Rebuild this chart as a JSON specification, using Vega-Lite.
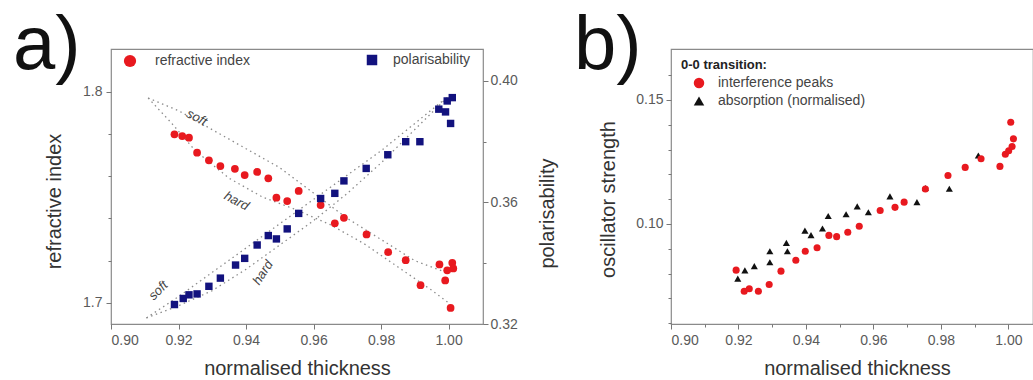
{
  "$schema": "https://vega.github.io/schema/vega-lite/v6.json",
  "padding": {"left": 12, "top": 7, "right": 0, "bottom": 0},
  "autosize": {"type": "pad"},
  "bounds": "flush",
  "spacing": 188,
  "config": {
    "view": {"stroke": "#8a8a8a", "strokeWidth": 1.2},
    "font": "Liberation Sans",
    "axis": {"domain": false, "grid": false, "tickColor": "#777777", "tickWidth": 1, "labelColor": "#5a5a5a", "labelFontSize": 14, "labelFont": "Liberation Sans", "titleFont": "Liberation Sans", "titleFontSize": 20, "titleFontWeight": "normal", "titleColor": "#333333", "labelPadding": 3},
    "legend": {"labelFont": "Liberation Sans", "labelFontSize": 14, "labelColor": "#444444", "titleFont": "Liberation Sans"}
  },
  "resolve": {"scale": {"color": "independent", "shape": "independent"}, "legend": {"color": "independent", "shape": "independent"}},
  "datasets": {
    "redPts": [
      {"t": 0.9188, "n": 1.7798}, {"t": 0.9211, "n": 1.7790}, {"t": 0.9231, "n": 1.7782}, {"t": 0.9255, "n": 1.7711},
      {"t": 0.9290, "n": 1.7675}, {"t": 0.9324, "n": 1.7648}, {"t": 0.9367, "n": 1.7635}, {"t": 0.9396, "n": 1.7605},
      {"t": 0.9433, "n": 1.7620}, {"t": 0.9466, "n": 1.7590}, {"t": 0.9490, "n": 1.7498}, {"t": 0.9522, "n": 1.7482},
      {"t": 0.9556, "n": 1.7530}, {"t": 0.9621, "n": 1.7463}, {"t": 0.9663, "n": 1.7377}, {"t": 0.9690, "n": 1.7403},
      {"t": 0.9757, "n": 1.7324}, {"t": 0.9821, "n": 1.7240}, {"t": 0.9873, "n": 1.7202}, {"t": 0.9917, "n": 1.7084},
      {"t": 0.9973, "n": 1.7182}, {"t": 0.9990, "n": 1.7106}, {"t": 0.9996, "n": 1.7154}, {"t": 1.0006, "n": 1.6976},
      {"t": 1.0011, "n": 1.7190}, {"t": 1.0014, "n": 1.7163}
    ],
    "bluePts": [
      {"t": 0.9188, "p": 0.3264}, {"t": 0.9214, "p": 0.3284}, {"t": 0.9231, "p": 0.3296}, {"t": 0.9255, "p": 0.3299},
      {"t": 0.9290, "p": 0.3324}, {"t": 0.9324, "p": 0.3351}, {"t": 0.9369, "p": 0.3394}, {"t": 0.9396, "p": 0.3416},
      {"t": 0.9433, "p": 0.3460}, {"t": 0.9466, "p": 0.3491}, {"t": 0.9490, "p": 0.3480}, {"t": 0.9522, "p": 0.3513},
      {"t": 0.9556, "p": 0.3564}, {"t": 0.9621, "p": 0.3613}, {"t": 0.9663, "p": 0.3630}, {"t": 0.9690, "p": 0.3671},
      {"t": 0.9756, "p": 0.3712}, {"t": 0.9820, "p": 0.3757}, {"t": 0.9873, "p": 0.3800}, {"t": 0.9915, "p": 0.3800},
      {"t": 0.9971, "p": 0.3907}, {"t": 0.9991, "p": 0.3898}, {"t": 0.9996, "p": 0.3934}, {"t": 1.0011, "p": 0.3945},
      {"t": 1.0006, "p": 0.3860}
    ],
    "redFit": [
      {"model": "soft", "t": 0.911, "n": 1.797}, {"model": "soft", "t": 0.92, "n": 1.791}, {"model": "soft", "t": 0.93, "n": 1.782},
      {"model": "soft", "t": 0.94, "n": 1.773}, {"model": "soft", "t": 0.95, "n": 1.764}, {"model": "soft", "t": 0.96, "n": 1.752},
      {"model": "soft", "t": 0.97, "n": 1.740}, {"model": "soft", "t": 0.98, "n": 1.730}, {"model": "soft", "t": 0.99, "n": 1.720},
      {"model": "soft", "t": 1.0, "n": 1.714},
      {"model": "hard", "t": 0.911, "n": 1.797}, {"model": "hard", "t": 0.918, "n": 1.785}, {"model": "hard", "t": 0.925, "n": 1.772},
      {"model": "hard", "t": 0.935, "n": 1.759}, {"model": "hard", "t": 0.945, "n": 1.750}, {"model": "hard", "t": 0.955, "n": 1.744},
      {"model": "hard", "t": 0.965, "n": 1.737}, {"model": "hard", "t": 0.975, "n": 1.728}, {"model": "hard", "t": 0.985, "n": 1.717},
      {"model": "hard", "t": 0.995, "n": 1.706}, {"model": "hard", "t": 1.0, "n": 1.700}
    ],
    "blueFit": [
      {"model": "soft", "t": 0.9105, "p": 0.322}, {"model": "soft", "t": 0.92, "p": 0.329}, {"model": "soft", "t": 0.93, "p": 0.337},
      {"model": "soft", "t": 0.94, "p": 0.345}, {"model": "soft", "t": 0.95, "p": 0.353}, {"model": "soft", "t": 0.96, "p": 0.361},
      {"model": "soft", "t": 0.97, "p": 0.369}, {"model": "soft", "t": 0.98, "p": 0.377}, {"model": "soft", "t": 0.99, "p": 0.386},
      {"model": "soft", "t": 1.0, "p": 0.395},
      {"model": "hard", "t": 0.9105, "p": 0.322}, {"model": "hard", "t": 0.92, "p": 0.326}, {"model": "hard", "t": 0.93, "p": 0.331},
      {"model": "hard", "t": 0.94, "p": 0.338}, {"model": "hard", "t": 0.95, "p": 0.346}, {"model": "hard", "t": 0.96, "p": 0.354},
      {"model": "hard", "t": 0.97, "p": 0.363}, {"model": "hard", "t": 0.98, "p": 0.373}, {"model": "hard", "t": 0.99, "p": 0.384},
      {"model": "hard", "t": 1.0, "p": 0.395}
    ],
    "redLab": [
      {"label": "soft", "t": 0.9254, "n": 1.7877},
      {"label": "hard", "t": 0.9372, "n": 1.7482}
    ],
    "blueLab": [
      {"label": "soft", "t": 0.9140, "p": 0.3310},
      {"label": "hard", "t": 0.9450, "p": 0.3369}
    ],
    "osc": [
      {"method": "absorption (normalised)", "t": 0.9198, "f": 0.0780}, {"method": "absorption (normalised)", "t": 0.9219, "f": 0.0813},
      {"method": "absorption (normalised)", "t": 0.9247, "f": 0.0830}, {"method": "absorption (normalised)", "t": 0.9293, "f": 0.0890},
      {"method": "absorption (normalised)", "t": 0.9293, "f": 0.0846}, {"method": "absorption (normalised)", "t": 0.9342, "f": 0.0924},
      {"method": "absorption (normalised)", "t": 0.9345, "f": 0.0890}, {"method": "absorption (normalised)", "t": 0.9397, "f": 0.0973},
      {"method": "absorption (normalised)", "t": 0.9415, "f": 0.0955}, {"method": "absorption (normalised)", "t": 0.9449, "f": 0.0982},
      {"method": "absorption (normalised)", "t": 0.9466, "f": 0.1032}, {"method": "absorption (normalised)", "t": 0.9519, "f": 0.1039},
      {"method": "absorption (normalised)", "t": 0.9552, "f": 0.1071}, {"method": "absorption (normalised)", "t": 0.9585, "f": 0.1047},
      {"method": "absorption (normalised)", "t": 0.9649, "f": 0.1111}, {"method": "absorption (normalised)", "t": 0.9729, "f": 0.1088},
      {"method": "absorption (normalised)", "t": 0.9754, "f": 0.1145}, {"method": "absorption (normalised)", "t": 0.9825, "f": 0.1142},
      {"method": "absorption (normalised)", "t": 0.9911, "f": 0.1276},
      {"method": "interference peaks", "t": 0.9193, "f": 0.0814}, {"method": "interference peaks", "t": 0.9217, "f": 0.0729},
      {"method": "interference peaks", "t": 0.9232, "f": 0.0739}, {"method": "interference peaks", "t": 0.9259, "f": 0.0729},
      {"method": "interference peaks", "t": 0.9291, "f": 0.0756}, {"method": "interference peaks", "t": 0.9326, "f": 0.0810},
      {"method": "interference peaks", "t": 0.9370, "f": 0.0854}, {"method": "interference peaks", "t": 0.9398, "f": 0.0890},
      {"method": "interference peaks", "t": 0.9433, "f": 0.0904}, {"method": "interference peaks", "t": 0.9468, "f": 0.0954},
      {"method": "interference peaks", "t": 0.9491, "f": 0.0949}, {"method": "interference peaks", "t": 0.9524, "f": 0.0967},
      {"method": "interference peaks", "t": 0.9558, "f": 0.0991}, {"method": "interference peaks", "t": 0.9620, "f": 0.1054},
      {"method": "interference peaks", "t": 0.9664, "f": 0.1067}, {"method": "interference peaks", "t": 0.9691, "f": 0.1088},
      {"method": "interference peaks", "t": 0.9754, "f": 0.1141}, {"method": "interference peaks", "t": 0.9821, "f": 0.1195},
      {"method": "interference peaks", "t": 0.9872, "f": 0.1228}, {"method": "interference peaks", "t": 0.9919, "f": 0.1263},
      {"method": "interference peaks", "t": 0.9975, "f": 0.1232}, {"method": "interference peaks", "t": 0.9991, "f": 0.1281},
      {"method": "interference peaks", "t": 1.0001, "f": 0.1295}, {"method": "interference peaks", "t": 1.0011, "f": 0.1312},
      {"method": "interference peaks", "t": 1.0015, "f": 0.1343}, {"method": "interference peaks", "t": 1.0007, "f": 0.1410}
    ]
  },
  "hconcat": [
    {
      "width": 372,
      "height": 275,
      "title": {"text": "a)", "anchor": "start", "frame": "group", "orient": "top", "fontSize": 76, "font": "Liberation Sans", "fontWeight": "normal", "color": "#111111", "baseline": "alphabetic", "dx": -98, "dy": 96, "offset": 0},
      "layer": [
        {
          "layer": [
            {
              "data": {"name": "redFit"},
              "mark": {"type": "line", "strokeDash": [1.5, 3.5], "color": "#8c8c8c", "strokeWidth": 1.3},
              "encoding": {
                "x": {"field": "t", "type": "quantitative"},
                "y": {"field": "n", "type": "quantitative"},
                "detail": {"field": "model"}
              }
            },
            {
              "data": {"name": "redLab"},
              "mark": {"type": "text", "angle": 28, "fontStyle": "italic", "fontSize": 13, "color": "#444444", "font": "Liberation Sans"},
              "encoding": {
                "x": {"field": "t", "type": "quantitative"},
                "y": {"field": "n", "type": "quantitative"},
                "text": {"field": "label"}
              }
            },
            {
              "data": {"name": "redPts"},
              "mark": {"type": "point", "shape": "circle", "filled": true, "size": 60, "opacity": 1},
              "encoding": {
                "x": {
                  "field": "t", "type": "quantitative",
                  "scale": {"domain": [0.9, 1.0102], "nice": false, "zero": false},
                  "axis": {
                    "title": "normalised thickness", "orient": "bottom",
                    "values": [0.90, 0.91, 0.92, 0.93, 0.94, 0.95, 0.96, 0.97, 0.98, 0.99, 1.00],
                    "labelExpr": "round(datum.value*100) % 2 == 0 ? format(datum.value, '.2f') : ''",
                    "tickSize": {"condition": {"test": "round(datum.value*100) % 2 == 0", "value": 5}, "value": 3},
                    "labelPadding": 4,
                    "titleX": 186, "titleY": 44, "titleBaseline": "middle", "titleAlign": "center"
                  }
                },
                "y": {
                  "field": "n", "type": "quantitative",
                  "scale": {"domain": [1.69, 1.8202], "nice": false, "zero": false},
                  "axis": {
                    "title": "refractive index", "orient": "left",
                    "values": [1.70, 1.72, 1.74, 1.76, 1.78, 1.80],
                    "labelExpr": "round(datum.value*100) % 10 == 0 ? format(datum.value, '.1f') : ''",
                    "tickSize": {"condition": {"test": "round(datum.value*100) % 10 == 0", "value": 5}, "value": 3},
                    "labelPadding": 4,
                    "titleX": -57, "titleY": 152, "titleAngle": -90, "titleBaseline": "middle", "titleAlign": "center"
                  }
                },
                "color": {
                  "datum": "refractive index",
                  "scale": {"range": ["#e8191f"]},
                  "legend": {"orient": "none", "legendX": 12, "legendY": 5, "title": null, "symbolSize": 150, "labelOffset": 18, "labelFontSize": 14, "labelColor": "#444444"}
                }
              }
            }
          ]
        },
        {
          "layer": [
            {
              "data": {"name": "blueFit"},
              "mark": {"type": "line", "strokeDash": [1.5, 3.5], "color": "#8c8c8c", "strokeWidth": 1.3},
              "encoding": {
                "x": {"field": "t", "type": "quantitative"},
                "y": {"field": "p", "type": "quantitative"},
                "detail": {"field": "model"}
              }
            },
            {
              "data": {"name": "blueLab"},
              "transform": [{"filter": "datum.label == 'soft'"}],
              "mark": {"type": "text", "angle": -45, "fontStyle": "italic", "fontSize": 13, "color": "#444444", "font": "Liberation Sans"},
              "encoding": {
                "x": {"field": "t", "type": "quantitative"},
                "y": {"field": "p", "type": "quantitative"},
                "text": {"field": "label"}
              }
            },
            {
              "data": {"name": "blueLab"},
              "transform": [{"filter": "datum.label == 'hard'"}],
              "mark": {"type": "text", "angle": -57, "fontStyle": "italic", "fontSize": 13, "color": "#444444", "font": "Liberation Sans"},
              "encoding": {
                "x": {"field": "t", "type": "quantitative"},
                "y": {"field": "p", "type": "quantitative"},
                "text": {"field": "label"}
              }
            },
            {
              "data": {"name": "bluePts"},
              "mark": {"type": "square", "filled": true, "size": 55, "opacity": 1},
              "encoding": {
                "x": {"field": "t", "type": "quantitative"},
                "y": {
                  "field": "p", "type": "quantitative",
                  "scale": {"domain": [0.32, 0.4105], "nice": false, "zero": false},
                  "axis": {
                    "title": "polarisability", "orient": "right",
                    "values": [0.32, 0.33, 0.34, 0.35, 0.36, 0.37, 0.38, 0.39, 0.40],
                    "labelExpr": "round(datum.value*100) % 4 == 0 ? format(datum.value, '.2f') : ''",
                    "tickSize": {"condition": {"test": "round(datum.value*100) % 4 == 0", "value": 5}, "value": 3},
                    "labelPadding": 2,
                    "titleX": 64, "titleY": 164, "titleAngle": -90, "titleBaseline": "middle", "titleAlign": "center"
                  }
                },
                "color": {
                  "datum": "polarisability",
                  "scale": {"range": ["#12127e"]},
                  "legend": {"orient": "none", "legendX": 254, "legendY": 4, "title": null, "symbolSize": 110, "labelOffset": 14, "labelFontSize": 14, "labelColor": "#444444"}
                }
              }
            }
          ]
        }
      ],
      "resolve": {"scale": {"y": "independent", "color": "independent"}}
    },
    {
      "width": 362,
      "height": 275,
      "title": {"text": "b)", "anchor": "start", "frame": "group", "orient": "top", "fontSize": 76, "font": "Liberation Sans", "fontWeight": "normal", "color": "#111111", "baseline": "alphabetic", "dx": -97, "dy": 96, "offset": 0},
      "data": {"name": "osc"},
      "mark": {"type": "point", "filled": true, "size": 50, "opacity": 1},
      "encoding": {
        "x": {
          "field": "t", "type": "quantitative",
          "scale": {"domain": [0.9, 1.0073], "nice": false, "zero": false},
          "axis": {
            "title": "normalised thickness", "orient": "bottom",
            "values": [0.90, 0.91, 0.92, 0.93, 0.94, 0.95, 0.96, 0.97, 0.98, 0.99, 1.00],
            "labelExpr": "round(datum.value*100) % 2 == 0 ? format(datum.value, '.2f') : ''",
            "tickSize": {"condition": {"test": "round(datum.value*100) % 2 == 0", "value": 5}, "value": 3},
            "labelPadding": 4,
            "titleX": 186, "titleY": 44, "titleBaseline": "middle", "titleAlign": "center"
          }
        },
        "y": {
          "field": "f", "type": "quantitative",
          "scale": {"domain": [0.0597, 0.1705], "nice": false, "zero": false},
          "axis": {
            "title": "oscillator strength", "orient": "left",
            "values": [0.06, 0.07, 0.08, 0.09, 0.10, 0.11, 0.12, 0.13, 0.14, 0.15, 0.16],
            "labelExpr": "round(datum.value*100) % 5 == 0 ? format(datum.value, '.2f') : ''",
            "tickSize": {"condition": {"test": "round(datum.value*100) % 5 == 0", "value": 5}, "value": 3},
            "labelPadding": 3,
            "titleX": -63, "titleY": 150, "titleAngle": -90, "titleBaseline": "middle", "titleAlign": "center"
          }
        },
        "color": {
          "field": "method", "type": "nominal",
          "scale": {"domain": ["interference peaks", "absorption (normalised)"], "range": ["#e8191f", "#111111"]},
          "legend": {"orient": "none", "legendX": 10, "legendY": 10, "title": "0-0 transition:", "titleFontSize": 13, "titleFontWeight": "bold", "titleColor": "#222222", "titlePadding": 4, "symbolSize": 110, "symbolOffset": 11, "labelOffset": 12, "rowPadding": 4, "labelFontSize": 14, "labelColor": "#444444"}
        },
        "shape": {
          "field": "method", "type": "nominal",
          "scale": {"domain": ["interference peaks", "absorption (normalised)"], "range": ["circle", "triangle-up"]},
          "legend": {"orient": "none", "legendX": 10, "legendY": 10, "title": "0-0 transition:", "titleFontSize": 13, "titleFontWeight": "bold", "titleColor": "#222222", "titlePadding": 4, "symbolSize": 110, "symbolOffset": 11, "labelOffset": 12, "rowPadding": 4, "labelFontSize": 14, "labelColor": "#444444"}
        }
      }
    }
  ]
}
